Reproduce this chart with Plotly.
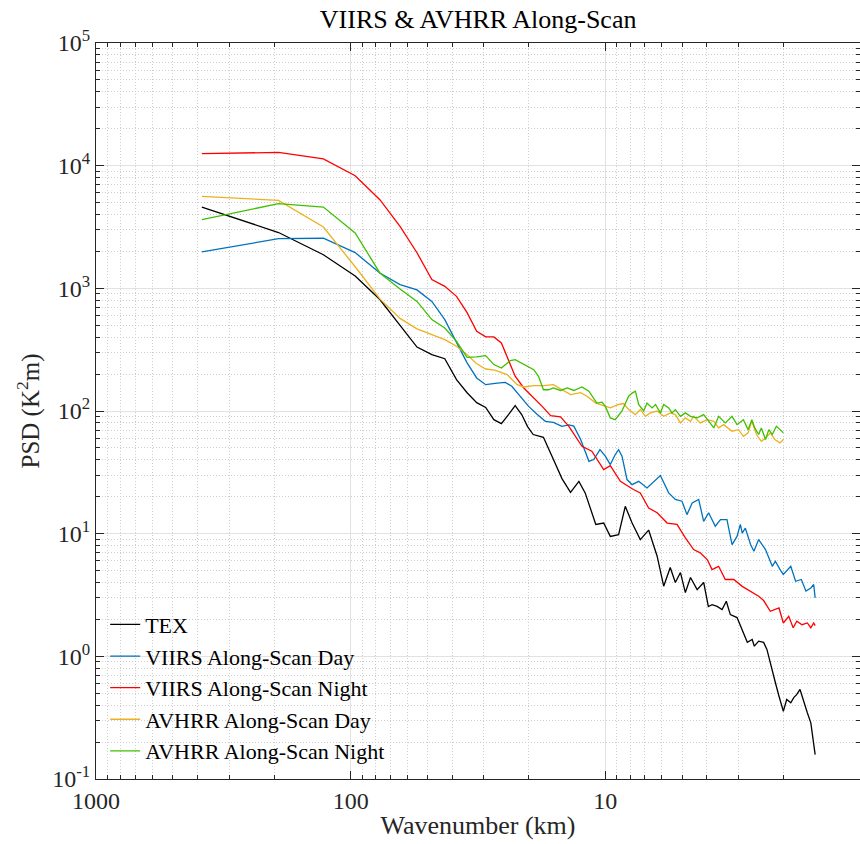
import plotly.graph_objects as go

# Along-scan SST power spectral density, wavelength (km) vs PSD (K^2 m)
tex_km = [384, 192, 128, 96, 76.8, 64, 54.9, 48, 42.7, 38.4,
          34.9, 32, 29.5, 27.4, 25.6, 24, 22.6, 21.3, 20.2, 19.2,
          18.3, 17.5, 16.2, 15.4, 14.8, 13.7, 12.7, 12.0, 10.9, 10.15,
          9.56, 8.87, 8.35, 7.85, 7.29, 6.76, 6.26, 5.9, 5.56, 5.31,
          5.07, 4.85, 4.63, 4.36, 4.11, 3.94, 3.81, 3.64, 3.48, 3.35,
          3.23, 3.04, 2.95, 2.87, 2.77, 2.65, 2.60, 2.50, 2.39, 2.32,
          2.21, 2.15, 2.08, 2.0, 1.94, 1.87, 1.82, 1.77, 1.72, 1.69,
          1.65, 1.61, 1.56, 1.52, 1.50]
tex_psd = [4600, 2850, 1880, 1260, 810, 497, 332, 288, 267, 180,
           141, 117, 107, 85, 79, 93.5, 110.7, 93.5, 74.6, 64.3,
           62.2, 61, 42.8, 33.3, 28.1, 21.7, 26.7, 21.5, 11.9, 12.2,
           9.5, 9.8, 16.7, 12.2, 8.95, 10.7, 6.55, 3.73, 5.3, 4.0,
           4.82, 3.31, 4.39, 3.5, 4.0, 2.55, 2.64, 2.55, 2.41, 2.81,
           2.19, 2.07, 1.76, 1.56, 1.30, 1.37, 1.21, 1.33, 1.30, 1.14,
           0.738, 0.612, 0.473, 0.357, 0.445, 0.418, 0.461, 0.489, 0.537, 0.473,
           0.405, 0.347, 0.287, 0.197, 0.158]

viirs_day_km = [384, 192, 128, 96, 76.8, 64, 54.9, 48, 42.7, 38.4,
                34.9, 32, 29.5, 26.6, 24.7, 23.3, 21.6, 20.0, 18.5, 17.2,
                16.0, 14.8, 13.9, 13.3, 12.5, 11.6, 11.1, 10.5, 10.0, 9.56,
                9.14, 8.87, 8.6, 8.22, 7.85, 7.4, 6.86, 6.46, 6.08, 5.64,
                5.31, 5.0, 4.78, 4.56, 4.3, 4.11, 3.93, 3.7, 3.53, 3.33,
                3.18, 3.04, 2.95, 2.9, 2.82, 2.69, 2.61, 2.5, 2.35, 2.21,
                2.15, 2.06, 2.0, 1.87, 1.79, 1.7, 1.63, 1.56, 1.52, 1.5]
viirs_day_psd = [1980, 2540, 2560, 1955, 1335, 1072, 970, 783, 556, 359,
                 247, 186, 164, 169, 171, 159, 132, 109, 93.5, 82.4,
                 80.9, 75, 77.1, 75.3, 58.5, 38.9, 40.2, 48.4, 42.8, 36.6,
                 44.2, 48.4, 42.8, 27.6, 25.1, 26.7, 23.6, 26.7, 29.8, 21.5,
                 19.0, 18.4, 14.3, 17.8, 19.0, 12.6, 14.8, 11.5, 13.0, 13.0,
                 8.15, 9.5, 11.9, 10.1, 11.1, 8.15, 7.19, 8.95, 7.42, 5.42,
                 5.96, 5.09, 4.65, 5.42, 4.09, 4.23, 3.4, 3.61, 3.85, 3.0]

viirs_night_km = [384, 192, 128, 96, 76.8, 64, 54.9, 48, 42.7, 38.4,
                  34.9, 32, 29.5, 27.4, 25.6, 24, 22.6, 20.9, 19.1, 17.7,
                  16.4, 15.0, 13.9, 13.1, 12.35, 11.3, 10.15, 9.56, 8.73, 7.76,
                  7.29, 6.76, 6.26, 5.72, 5.23, 4.85, 4.5, 4.24, 3.98, 3.81,
                  3.59, 3.38, 3.13, 2.9, 2.69, 2.5, 2.39, 2.25, 2.08, 2.0,
                  1.905, 1.83, 1.77, 1.69, 1.61, 1.56, 1.52, 1.5]
viirs_night_psd = [12530, 12830, 11340, 8280, 5280, 3200, 1950, 1178, 1038, 861,
                   634, 447, 402, 402, 359, 262, 192, 154, 128, 109,
                   91.7, 89.5, 75, 62.2, 51.5, 47, 33.3, 35.9, 26.7, 22.9,
                   21.5, 16.2, 14.8, 12.2, 11.9, 9.25, 7.42, 6.97, 6.15, 5.09,
                   5.42, 4.23, 4.23, 3.72, 3.4, 3.09, 2.85, 2.33, 2.48, 1.87,
                   2.12, 1.71, 1.93, 1.81, 1.87, 1.71, 1.87, 1.78]

avhrr_day_km = [384, 192, 128, 96, 76.8, 64, 54.9, 48, 42.7, 38.4,
                34.9, 32, 29.5, 27.2, 24.3, 22.2, 20.9, 19.1, 17.5, 16.0,
                14.8, 13.7, 12.5, 11.8, 10.9, 10.0, 9.56, 8.87, 8.48, 8.1,
                7.62, 7.29, 6.96, 6.66, 6.26, 5.9, 5.56, 5.31, 5.07, 4.85,
                4.63, 4.5, 4.24, 3.98, 3.75, 3.59, 3.43, 3.18, 3.0, 2.87,
                2.75, 2.66, 2.55, 2.44, 2.34, 2.25, 2.16, 2.06, 2.0]
avhrr_day_psd = [5620, 5210, 3160, 1500, 820, 569, 467, 420, 382, 337,
                 288, 243, 220, 215, 198, 164, 157, 161, 161, 164,
                 149, 136, 141, 132, 116, 109, 106, 113, 115, 103,
                 93.5, 103, 90.5, 96.5, 100, 90.5, 96.5, 93.5, 80, 87.9,
                 82.4, 90.5, 80, 85, 82.4, 72.8, 77.4, 68.4, 70.5, 62.2,
                 66.3, 82.4, 64.3, 56.6, 60.4, 66.3, 58.5, 55, 58.5]

avhrr_night_km = [384, 192, 128, 96, 76.8, 64, 54.9, 48, 42.7, 38.4,
                  34.9, 32, 29.5, 27.4, 25.6, 23.6, 22.6, 20.9, 19.1, 18.3,
                  17.5, 16.7, 16.0, 15.0, 14.1, 13.3, 12.35, 11.6, 10.8, 10.3,
                  10.0, 9.56, 9.14, 8.6, 8.1, 7.85, 7.62, 7.4, 7.07, 6.86,
                  6.55, 6.35, 6.08, 5.9, 5.64, 5.47, 5.31, 5.07, 4.85, 4.63,
                  4.36, 4.11, 3.93, 3.75, 3.59, 3.38, 3.18, 3.04, 2.87, 2.75,
                  2.66, 2.59, 2.5, 2.44, 2.35, 2.28, 2.21, 2.13, 2.06, 2.0]
avhrr_night_psd = [3630, 4900, 4600, 2830, 1335, 989, 783, 556, 475, 370,
                   274, 276, 283, 239, 224, 258, 262, 239, 217, 192,
                   149, 149, 154, 147, 154, 147, 157, 145, 116, 118,
                   109, 87.9, 85, 100, 132, 140, 145, 113, 100, 116,
                   106, 113, 96.5, 113, 106, 96.5, 102.6, 90.5, 96.5, 90.5,
                   87.9, 93.5, 82.4, 72.8, 90.5, 80, 90.5, 77.4, 85, 70.5,
                   85, 72.8, 64.3, 72.8, 58.5, 70.5, 64.3, 75, 70.5, 66.3]

series = [
    ("TEX", tex_km, tex_psd, "#000000"),
    ("VIIRS Along-Scan Day", viirs_day_km, viirs_day_psd, "#0072BD"),
    ("VIIRS Along-Scan Night", viirs_night_km, viirs_night_psd, "#FF0000"),
    ("AVHRR Along-Scan Day", avhrr_day_km, avhrr_day_psd, "#EDB120"),
    ("AVHRR Along-Scan Night", avhrr_night_km, avhrr_night_psd, "#3FBF00"),
]

x_ticks = [1000, 100, 10, 1]
x_tick_text = ["1000", "100", "10", "1"]
y_ticks = [0.1, 1, 10, 100, 1e3, 1e4, 1e5]
y_tick_text = ["10<sup>-1</sup>", "10<sup>0</sup>", "10<sup>1</sup>", "10<sup>2</sup>",
               "10<sup>3</sup>", "10<sup>4</sup>", "10<sup>5</sup>"]

x_minor = [m * 10 ** e for e in range(0, 3) for m in range(2, 10)]
y_minor = [m * 10.0 ** e for e in range(-1, 5) for m in range(2, 10)]

SERIF = "Liberation Serif"
INK = "#262626"

fig = go.Figure()
for name, xs, ys, color in series:
    fig.add_trace(go.Scatter(x=xs, y=ys, mode="lines", name=name,
                             line=dict(color=color, width=1.3)))

axis_common = dict(
    type="log",
    showline=True, linecolor=INK, linewidth=1, mirror="ticks",
    ticks="inside", ticklen=8, tickcolor=INK,
    showgrid=True, gridcolor="#E2E2E2", gridwidth=1,
    zeroline=False,
    tickfont=dict(family=SERIF, size=24, color=INK),
)
minor_common = dict(ticks="inside", ticklen=4, tickcolor=INK,
                    showgrid=True, gridcolor="#CDCDCD", griddash="1px,2px",
                    gridwidth=1)

fig.update_xaxes(
    **axis_common,
    range=[3, 0],
    tickvals=x_ticks, ticktext=x_tick_text,
    minor=dict(tickvals=x_minor, **minor_common),
    title=dict(text="Wavenumber (km)", font=dict(family=SERIF, size=26, color=INK),
               standoff=3),
)
fig.update_yaxes(
    **axis_common,
    range=[-1, 5],
    tickvals=y_ticks, ticktext=y_tick_text,
    minor=dict(tickvals=y_minor, **minor_common),
    title=dict(text="PSD (K<sup>2</sup>m)", font=dict(family=SERIF, size=25, color=INK),
               standoff=5),
)

fig.update_layout(
    width=860, height=844,
    margin=dict(l=96, r=0, t=43, b=65),
    paper_bgcolor="white", plot_bgcolor="white",
    title=dict(text="VIIRS & AVHRR Along-Scan", x=0.556, xanchor="center",
               y=1 - 19 / 844, yanchor="middle", yref="container",
               font=dict(family=SERIF, size=26, color="#000000")),
    legend=dict(x=0.012, y=0.01, xanchor="left", yanchor="bottom",
                bgcolor="rgba(0,0,0,0)", borderwidth=0, tracegroupgap=0,
                font=dict(family=SERIF, size=22, color="#000000")),
    showlegend=True,
    hovermode=False,
)

fig.write_html("out.html")
